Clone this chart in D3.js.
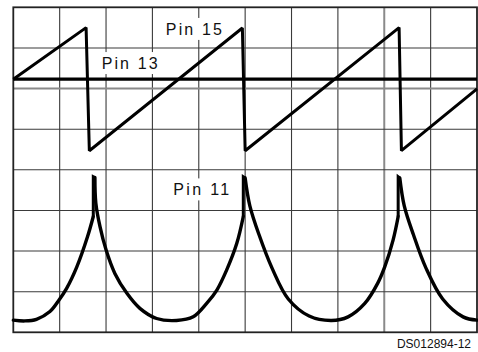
<!DOCTYPE html>
<html>
<head>
  <meta charset="utf-8">
  <title>DS012894-12</title>
  <style type="text/css">
body{
  margin: 0;
  background: #fff;
}
svg text{
  font-family: "Liberation Sans", Arial, sans-serif;
  fill: #111;
}
  </style>
</head>
<body>
<div id="scope"></div>
<script src="https://cdn.jsdelivr.net/npm/d3@7"></script>
<script type="text/javascript">
// screen divisions (10 across, 8 up)
var xDivs = [0, 1, 2, 3, 4, 5, 6, 7, 8, 9, 10];
var yDivs = [0, 1, 2, 3, 4, 5, 6, 7, 8];
var greyX = [8], greyY = [6];

// Pin 13: flat DC level
var pin13Level = 6.23;

// Pin 15: sawtooth
var pin15 = [[0, 6.23], [1.57, 7.5], [1.64, 4.47], [4.94, 7.49], [5.0, 4.47],
             [8.32, 7.5], [8.37, 4.47], [10, 5.99]];

// Pin 11: spiky cusps
var pin11 = [[0, 0.30], [0.25, 0.28], [0.5, 0.32], [0.79, 0.51], [0.99, 0.8],
             [1.15, 1.08], [1.37, 1.61], [1.6, 2.35], [1.725, 2.85], [1.725, 3.83],
             [1.76, 3.81], [1.78, 3.18], [1.87, 2.6], [2.0, 2.03], [2.19, 1.45],
             [2.45, 0.96], [2.73, 0.59], [3.09, 0.34], [3.52, 0.29], [3.88, 0.38],
             [4.17, 0.71], [4.39, 1.04], [4.6, 1.53], [4.82, 2.19], [4.96, 2.85],
             [4.96, 3.83], [5.0, 3.8], [5.1, 3.12], [5.3, 2.4], [5.58, 1.58],
             [5.93, 0.82], [6.38, 0.4], [6.86, 0.29], [7.22, 0.38], [7.58, 0.71],
             [7.86, 1.21], [8.01, 1.61], [8.19, 2.27], [8.3, 2.85], [8.3, 3.83],
             [8.335, 3.8], [8.43, 3.12], [8.63, 2.4], [8.9, 1.58], [9.26, 0.82],
             [9.7, 0.38], [10, 0.30]];

// labels: [text, x, baseline y] in divisions
var labels = [["Pin 15", 3.29, 7.32], ["Pin 13", 1.905, 6.48], ["Pin 11", 3.45, 3.37]];
var figureId = "DS012894-12";

var W = 478, H = 352;
var svg = d3.select("#scope").append("svg").attr("width", W).attr("height", H);

var x = d3.scaleLinear().domain([0, 10]).range([13.3, 477]);
var y = d3.scaleLinear().domain([0, 8]).range([332.3, 7.3]);

// grid
svg.append("g").selectAll("line").data(xDivs.slice(1, -1)).enter().append("line")
  .attr("x1", function (d) { return x(d); }).attr("x2", function (d) { return x(d); })
  .attr("y1", y(8)).attr("y2", y(0))
  .attr("stroke", function (d) { return greyX.indexOf(d) >= 0 ? "#8a8a8a" : "#3a3a3a"; })
  .attr("stroke-width", function (d) { return greyX.indexOf(d) >= 0 ? 2 : 1.1; });
svg.append("g").selectAll("line").data(yDivs.slice(1, -1)).enter().append("line")
  .attr("x1", x(0)).attr("x2", x(10))
  .attr("y1", function (d) { return y(d); }).attr("y2", function (d) { return y(d); })
  .attr("stroke", function (d) { return greyY.indexOf(d) >= 0 ? "#8a8a8a" : "#3a3a3a"; })
  .attr("stroke-width", function (d) { return greyY.indexOf(d) >= 0 ? 2 : 1.1; });
svg.append("rect")
  .attr("x", x(0)).attr("y", y(8)).attr("width", x(10) - x(0)).attr("height", y(0) - y(8))
  .attr("fill", "none").attr("stroke", "#222").attr("stroke-width", 1.8);

// label boxes knock out the grid
labels.forEach(function (l) {
  var t = svg.append("text")
    .attr("x", x(l[1])).attr("y", y(l[2]))
    .style("font-size", "16px")
    .attr("textLength", 56).attr("lengthAdjust", "spacing")
    .text(l[0]);
  var b = t.node().getBBox();
  svg.insert("rect", "text")
    .attr("x", b.x - 6).attr("y", b.y - 3).attr("width", b.width + 12).attr("height", b.height + 5)
    .attr("fill", "#fff");
});

// traces
svg.append("line")
  .attr("x1", x(0)).attr("x2", x(10)).attr("y1", y(pin13Level)).attr("y2", y(pin13Level))
  .attr("stroke", "#000").attr("stroke-width", 3.2);

var straight = d3.line().x(function (d) { return x(d[0]); }).y(function (d) { return y(d[1]); });
svg.append("path").attr("d", straight(pin15))
  .attr("fill", "none").attr("stroke", "#000").attr("stroke-width", 3)
  .attr("stroke-linejoin", "miter").attr("stroke-miterlimit", 2);

// split Pin 11 at its vertical spikes: smooth arcs, straight spike strokes
var smooth = d3.line().curve(d3.curveCatmullRom.alpha(0.5))
  .x(function (d) { return x(d[0]); }).y(function (d) { return y(d[1]); });
var arcs = [], spikes = [], cur = [pin11[0]];
for (var i = 1; i < pin11.length; i++) {
  if (pin11[i][0] === pin11[i - 1][0]) {
    arcs.push(cur);
    spikes.push([pin11[i - 1], pin11[i], pin11[i + 1]]);
    cur = [pin11[i + 1]];
    i++;
  } else {
    cur.push(pin11[i]);
  }
}
arcs.push(cur);
svg.append("g").selectAll("path").data(arcs).enter().append("path")
  .attr("d", function (d) { return smooth(d); })
  .attr("fill", "none").attr("stroke", "#000").attr("stroke-width", 3.4)
  .attr("stroke-linecap", "round");
svg.append("g").selectAll("path").data(spikes).enter().append("path")
  .attr("d", function (d) { return straight(d); })
  .attr("fill", "none").attr("stroke", "#000").attr("stroke-width", 3)
  .attr("stroke-linejoin", "miter").attr("stroke-miterlimit", 3);

svg.append("text")
  .attr("x", 471).attr("y", 347.5)
  .style("text-anchor", "end").style("font-size", "12px")
  .text(figureId);
</script>
</body>
</html>
